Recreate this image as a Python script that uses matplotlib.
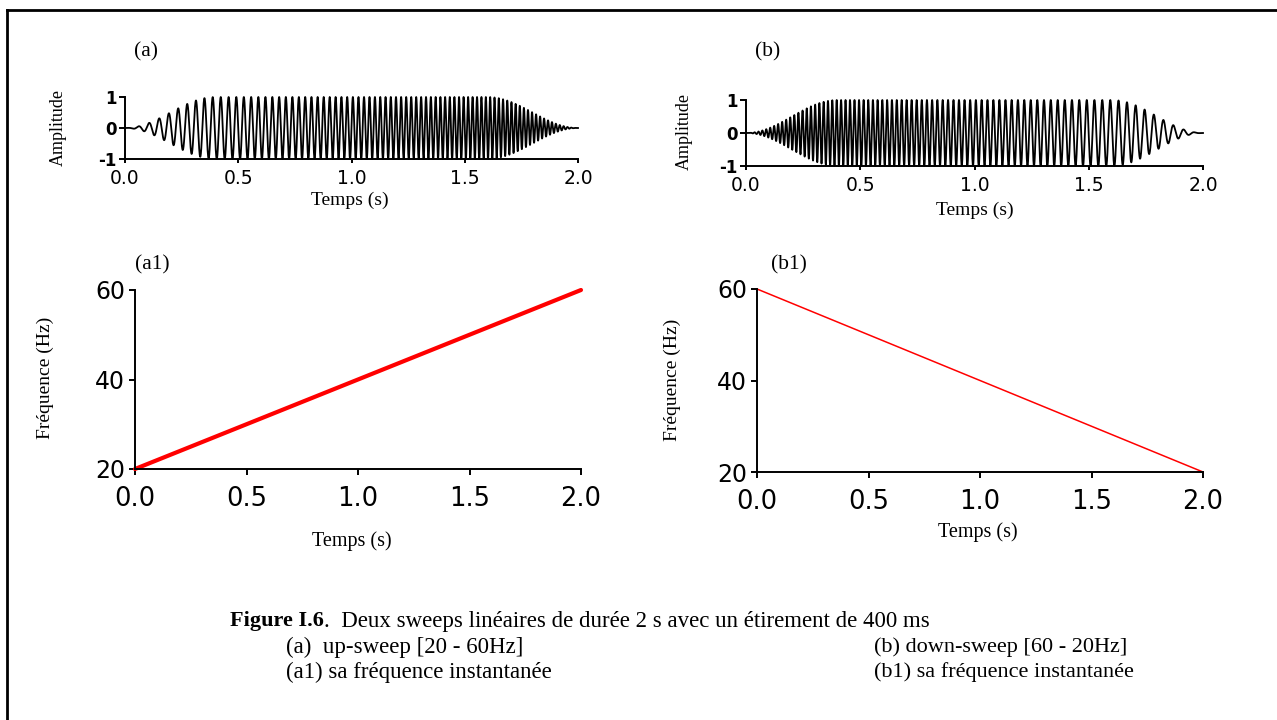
import numpy as np
import matplotlib
matplotlib.use("Agg")
from matplotlib import pyplot as plt
from matplotlib.lines import Line2D

# sweep description
t_knots = [0.0, 2.0]          # s
f_up = [20.0, 60.0]           # Hz, up-sweep (a)
f_down = [60.0, 20.0]         # Hz, down-sweep (b)
taper_len = 0.4               # s, "étirement de 400 ms"
fs = 4000                     # samples per second for the trace

xticks = [0.0, 0.5, 1.0, 1.5, 2.0]
xtick_labels = ["0.0", "0.5", "1.0", "1.5", "2.0"]
amp_ticks = [-1, 0, 1]
amp_labels = ["-1", "0", "1"]
freq_ticks = [20, 40, 60]
freq_labels = ["20", "40", "60"]

SERIF = "Liberation Serif"
SANS = "DejaVu Sans"

t = np.arange(0, t_knots[-1] + 1 / fs, 1 / fs)


def sweep(freqs):
    f = np.interp(t, t_knots, freqs)
    phase = 2 * np.pi * np.cumsum(f) / fs
    w = np.ones_like(t)
    ramp = t < taper_len
    w[ramp] = np.sin(0.5 * np.pi * t[ramp] / taper_len) ** 2
    ramp = t > t_knots[-1] - taper_len
    w[ramp] = np.sin(0.5 * np.pi * (t_knots[-1] - t[ramp]) / taper_len) ** 2
    return w * np.sin(phase)


W, H = 1277, 720
fig = plt.figure(figsize=(W / 100, H / 100), dpi=100)


def box(x0, x1, y_top, y_bot):
    # pixel box -> figure fraction
    return [x0 / W, 1 - y_bot / H, (x1 - x0) / W, (y_bot - y_top) / H]


def ftext(x, y, s, **kw):
    kw.setdefault("family", SERIF)
    kw.setdefault("ha", "center")
    kw.setdefault("va", "center")
    return fig.text(x / W, 1 - y / H, s, **kw)


def style(ax):
    ax.spines[["top", "right"]].set_visible(False)
    for s in ["left", "bottom"]:
        ax.spines[s].set_linewidth(1.4)
    ax.set_xlim(0, 2)
    ax.set_xticks(xticks)
    ax.set_xticklabels(xtick_labels)


# ---------------- signals (a) and (b) ----------------
for (x0, x1, yt, yb), freqs in [((125, 578, 97, 159), f_up),
                                ((746, 1203, 100, 166), f_down)]:
    ax = fig.add_axes(box(x0, x1, yt, yb))
    style(ax)
    ax.plot(t, sweep(freqs), color="black", lw=1.3, clip_on=False)
    ax.set_ylim(-1, 1)
    ax.set_yticks(amp_ticks)
    ax.set_yticklabels(amp_labels, fontweight="bold")
    ax.tick_params(axis="x", length=3, width=1.4, pad=4, labelsize=13.5)
    ax.tick_params(axis="y", length=4, width=1.4, pad=2, labelsize=12)
    for lab in ax.get_xticklabels() + ax.get_yticklabels():
        lab.set_family(SANS)

# ---------------- instantaneous frequency (a1) and (b1) ----------------
for (x0, x1, yt, yb), freqs, lw in [((135, 581, 290, 469), f_up, 3.0),
                                    ((757, 1203, 289, 472), f_down, 1.1)]:
    ax = fig.add_axes(box(x0, x1, yt, yb))
    style(ax)
    ax.plot(t_knots, freqs, color="#ff0000", lw=lw, clip_on=False,
            solid_capstyle="round")
    ax.set_ylim(20, 60)
    ax.set_yticks(freq_ticks)
    ax.set_yticklabels(freq_labels)
    ax.tick_params(axis="x", length=4, width=1.4, pad=8, labelsize=18.5)
    ax.tick_params(axis="y", length=4, width=1.4, pad=3, labelsize=17)
    for lab in ax.get_xticklabels() + ax.get_yticklabels():
        lab.set_family(SANS)

# axis titles and panel letters
ftext(146, 52, "(a)", fontsize=15.5)
ftext(768, 52, "(b)", fontsize=15.5)
ftext(152, 265, "(a1)", fontsize=15.5)
ftext(789, 265, "(b1)", fontsize=15.5)

ftext(350, 200, "Temps (s)", fontsize=14)
ftext(975, 210, "Temps (s)", fontsize=14)
ftext(352, 541, "Temps (s)", fontsize=14.5)
ftext(978, 532, "Temps (s)", fontsize=14.5)

ftext(58, 128, "Amplitude", fontsize=13, rotation=90)
ftext(684, 132, "Amplitude", fontsize=13, rotation=90)
ftext(45, 378, "Fréquence (Hz)", fontsize=14, rotation=90)
ftext(672, 380, "Fréquence (Hz)", fontsize=14, rotation=90)

# caption
cap = ftext(230, 621, "Figure I.6", fontsize=16, fontweight="bold", ha="left")
r = fig.canvas.get_renderer()
x_end = cap.get_window_extent(r).x1
ftext(x_end, 621, ".  Deux sweeps linéaires de durée 2 s avec un étirement de 400 ms",
      fontsize=16.5, ha="left")
ftext(286, 647, "(a)  up-sweep [20 - 60Hz]", fontsize=16.5, ha="left")
ftext(874, 647, "(b) down-sweep [60 - 20Hz]", fontsize=16, ha="left")
ftext(286, 672, "(a1) sa fréquence instantanée", fontsize=16.5, ha="left")
ftext(874, 672, "(b1) sa fréquence instantanée", fontsize=16, ha="left")

# page frame (only top and left edges visible)
fig.add_artist(Line2D([7 / W, 7 / W], [0, 1 - 10 / H], color="black", lw=2))
fig.add_artist(Line2D([7 / W, 1], [1 - 10 / H, 1 - 10 / H], color="black", lw=2))

fig.savefig("out.png", dpi=100, facecolor="white")
